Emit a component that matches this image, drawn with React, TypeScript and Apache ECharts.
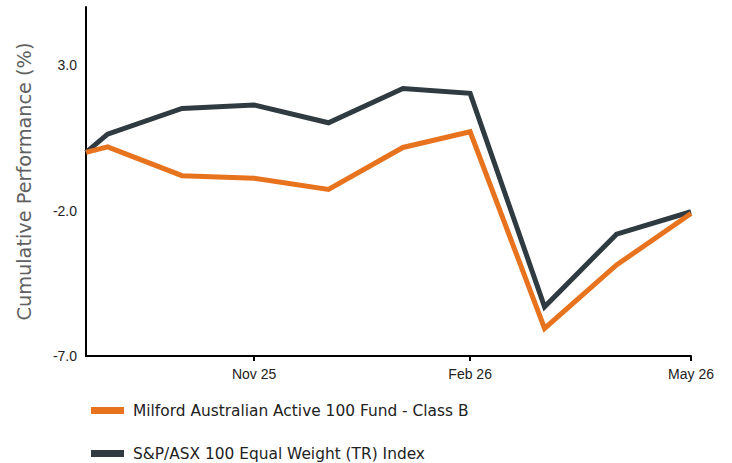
import React, { useEffect, useRef } from "react";
import * as echarts from "echarts";

const dates = [
  "2025-09-21", "2025-09-30", "2025-10-31", "2025-11-30", "2025-12-31",
  "2026-01-31", "2026-02-28", "2026-03-31", "2026-04-30", "2026-05-31",
];
const fundValues = [0.0, 0.19, -0.8, -0.89, -1.27, 0.17, 0.71, -6.05, -3.87, -2.1];
const indexValues = [0.0, 0.63, 1.51, 1.63, 1.02, 2.2, 2.03, -5.31, -2.81, -2.04];
const fundName = "Milford Australian Active 100 Fund - Class B";
const indexName = "S&P/ASX 100 Equal Weight (TR) Index";
const xTickDates = ["2025-11-30", "2026-02-28", "2026-05-31"];
const xTickLabels = ["Nov 25", "Feb 26", "May 26"];
const yTickValues = [-7, -2, 3];

const toDay = (s: string) => {
  const [y, m, d] = s.split("-").map(Number);
  return Math.round(Date.UTC(y, m - 1, d) / 86400000);
};

export default function App() {
  const ref = useRef<HTMLDivElement>(null);
  useEffect(() => {
    if (!ref.current) return;
    const chart = echarts.init(ref.current, null, { renderer: "svg" });
    const d0 = toDay(dates[0]);
    const xs = dates.map((d) => toDay(d) - d0);
    const xTicks = xTickDates.map((d) => toDay(d) - d0);
    const legendBase = {
      orient: "horizontal",
      left: 91,
      padding: 0,
      itemWidth: 33,
      itemHeight: 7,
      icon: "rect",
      textStyle: {
        fontFamily: "DejaVu Sans",
        fontSize: 15.4,
        color: "#222",
        lineHeight: 15,
        padding: [0, 0, 0, 4],
      },
    };
    chart.setOption({
      animation: false,
      backgroundColor: "#ffffff",
      grid: { left: 86, right: 41, top: 7, bottom: 107 },
      legend: [
        { ...legendBase, top: 403, data: [fundName] },
        { ...legendBase, top: 446, data: [indexName] },
      ],
      xAxis: {
        type: "value",
        min: 0,
        max: xs[xs.length - 1],
        axisLine: { show: true, onZero: false, lineStyle: { color: "#000", width: 2 } },
        axisTick: { show: true, length: 5, customValues: xTicks, lineStyle: { color: "#000", width: 2 } },
        splitLine: { show: false },
        axisLabel: {
          customValues: xTicks,
          margin: 11,
          fontFamily: "Liberation Sans",
          fontSize: 14,
          color: "#222",
          formatter: (v: number) => {
            const i = xTicks.indexOf(v);
            return i >= 0 ? xTickLabels[i] : "";
          },
        },
      },
      yAxis: {
        type: "value",
        min: -7,
        max: 5,
        name: "Cumulative Performance (%)",
        nameLocation: "middle",
        nameGap: 52,
        nameTextStyle: { fontFamily: "DejaVu Sans", fontSize: 19.3, color: "#606060" },
        axisLine: { show: true, lineStyle: { color: "#000", width: 2 } },
        axisTick: { show: false },
        splitLine: { show: false },
        axisLabel: {
          customValues: yTickValues,
          margin: 9,
          fontFamily: "Liberation Sans",
          fontSize: 14,
          color: "#222",
          formatter: (v: number) => v.toFixed(1),
        },
      },
      series: [
        {
          name: indexName,
          type: "line",
          z: 2,
          symbol: "none",
          color: "#2f3b41",
          lineStyle: { width: 5, color: "#2f3b41", join: "miter" },
          data: xs.map((x, i) => [x, indexValues[i]]),
        },
        {
          name: fundName,
          type: "line",
          z: 3,
          symbol: "none",
          color: "#e8731e",
          lineStyle: { width: 5, color: "#e8731e", join: "miter" },
          data: xs.map((x, i) => [x, fundValues[i]]),
        },
      ],
    });
    return () => chart.dispose();
  }, []);
  return (
    <div
      ref={ref}
      style={{ position: "fixed", left: 0, top: 0, width: 732, height: 463 }}
    />
  );
}
